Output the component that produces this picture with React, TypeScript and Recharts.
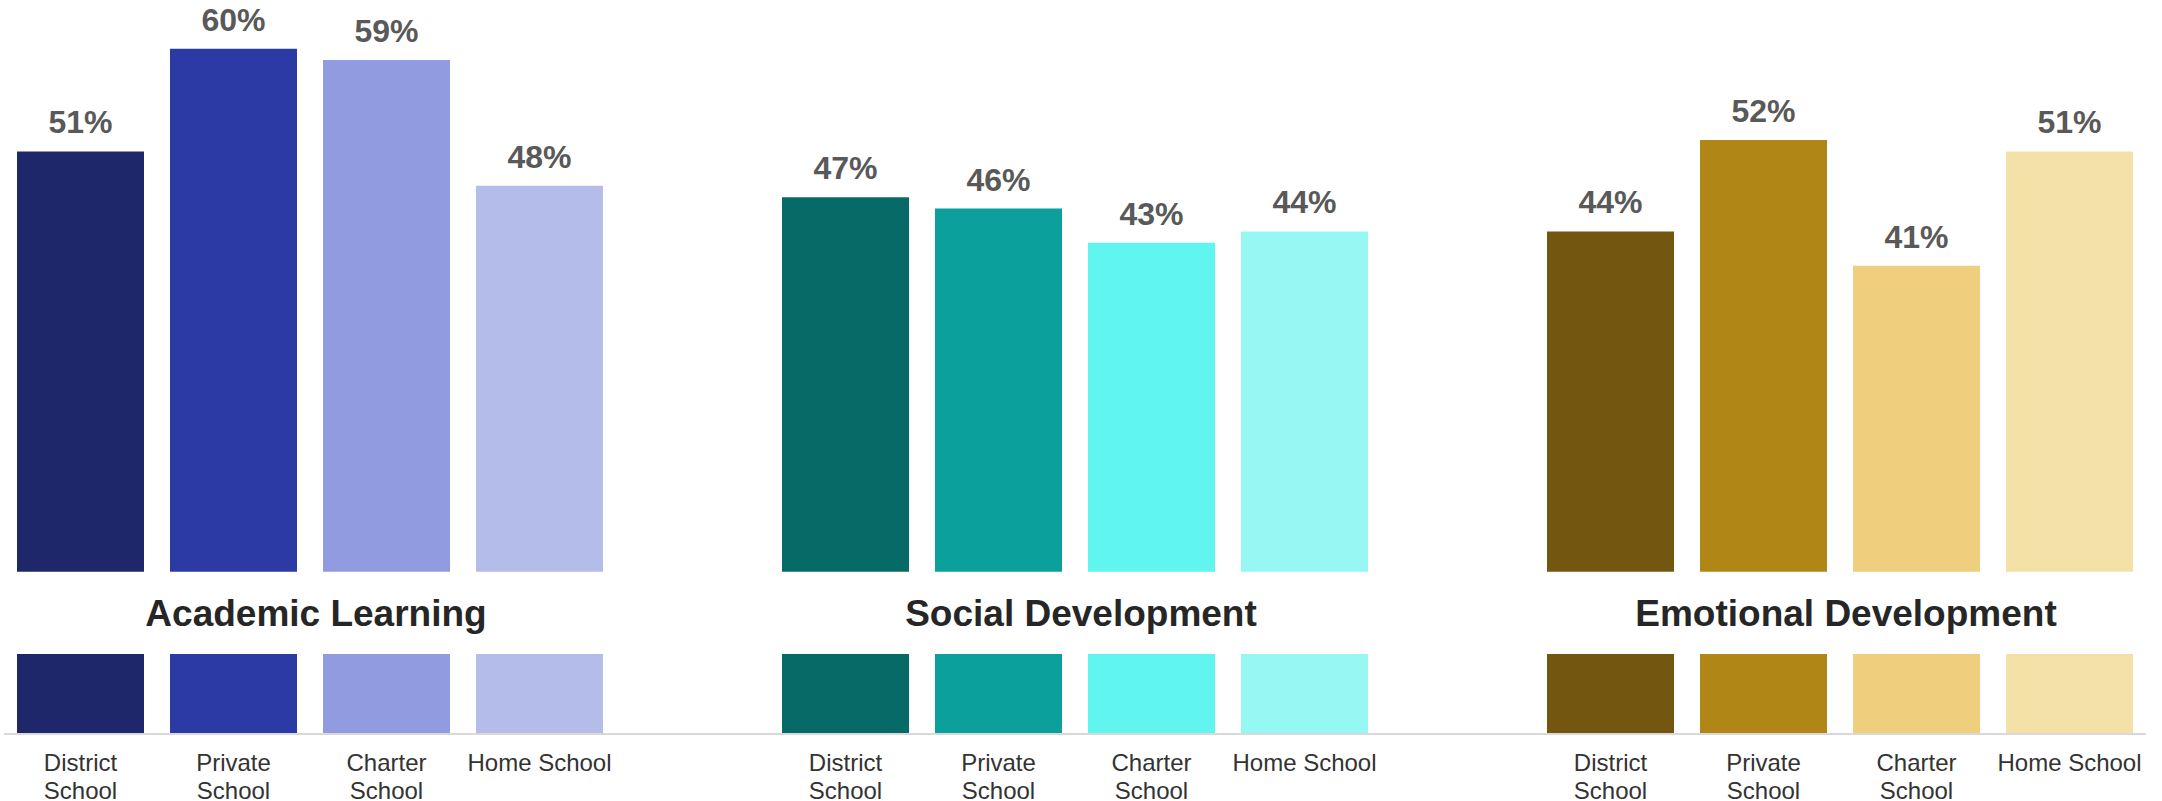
import React from 'react';
import { BarChart, Bar, XAxis, YAxis, Cell, LabelList, ReferenceArea } from 'recharts';

const FONT = '"Liberation Sans", Arial, sans-serif';

const schoolTypes = ['District School', 'Private School', 'Charter School', 'Home School'];
const areas = ['Academic Learning', 'Social Development', 'Emotional Development'];

const academic = [51, 60, 59, 48];
const social = [47, 46, 43, 44];
const emotional = [44, 52, 41, 51];

const academicColors = ['#1E2769', '#2C3AA5', '#909BE0', '#B4BCEA'];
const socialColors = ['#066B66', '#0BA09B', '#60F5EF', '#97F7F3'];
const emotionalColors = ['#735710', '#B08617', '#EFCF7D', '#F3E1A8'];

// the white band that "breaks" the bars and holds the area titles
const breakFrom = 7;
const breakTo = 14.2;

const seriesByArea = [academic, social, emotional];
const colorsByArea = [academicColors, socialColors, emotionalColors];

type Row = { key: string; label: string; value: number | null; color: string };

// one slot per bar, plus an empty slot between the areas
const rows: Row[] = [];
areas.forEach((area, g) => {
  if (g > 0) rows.push({ key: `gap-${g}`, label: '', value: null, color: '#ffffff' });
  schoolTypes.forEach((s, i) => {
    rows.push({ key: `${area}|${s}`, label: s, value: seriesByArea[g][i], color: colorsByArea[g][i] });
  });
});

// greedy word wrap, about as many characters as fit under one bar
const wrap = (label: string, maxChars = 12) => {
  const lines: string[] = [];
  label.split(' ').forEach((w) => {
    const last = lines[lines.length - 1];
    if (last !== undefined && (last + ' ' + w).length <= maxChars) lines[lines.length - 1] = last + ' ' + w;
    else lines.push(w);
  });
  return lines;
};

const SchoolTick = (props: any) => {
  const { x, y, payload } = props;
  const row = rows.find((r) => r.key === payload.value);
  if (!row || !row.label) return null;
  return (
    <text x={x} y={y} textAnchor="middle" fontSize={24} fontFamily={FONT} fill="#333333">
      {wrap(row.label).map((line, i) => (
        <tspan key={i} x={x} dy={i === 0 ? 17 : 27.5}>
          {line}
        </tspan>
      ))}
    </text>
  );
};

export default function App() {
  return (
    <div style={{ position: 'absolute', left: 0, top: 0, background: '#fff' }}>
      <BarChart
        width={2162}
        height={801}
        data={rows}
        margin={{ top: 3, right: 16, left: 4, bottom: 0 }}
      >
        <XAxis
          dataKey="key"
          interval={0}
          tickLine={false}
          tickSize={0}
          tickMargin={20}
          height={67}
          axisLine={{ stroke: '#d9d9d9', strokeWidth: 2 }}
          tick={<SchoolTick />}
        />
        <YAxis hide domain={[0, 64]} />
        <Bar dataKey="value" barSize={127} isAnimationActive={false}>
          {rows.map((r) => (
            <Cell key={r.key} fill={r.color} />
          ))}
          <LabelList
            dataKey="value"
            position="top"
            offset={18}
            formatter={(v: any) => (v == null ? '' : `${v}%`)}
            fill="#595959"
            fontSize={32}
            fontWeight="bold"
            fontFamily={FONT}
          />
        </Bar>
        <ReferenceArea
          x1={rows[0].key}
          x2={rows[rows.length - 1].key}
          y1={breakFrom}
          y2={breakTo}
          fill="#ffffff"
          fillOpacity={1}
          stroke="none"
          zIndex={1500}
        />
        {areas.map((area) => (
          <ReferenceArea
            key={area}
            x1={`${area}|${schoolTypes[0]}`}
            x2={`${area}|${schoolTypes[schoolTypes.length - 1]}`}
            y1={breakFrom}
            y2={breakTo}
            fillOpacity={0}
            stroke="none"
            zIndex={1600}
            label={{
              value: area,
              position: 'center',
              dx: 6,
              fill: '#262626',
              fontSize: 37,
              fontWeight: 'bold',
              fontFamily: FONT,
            }}
          />
        ))}
      </BarChart>
    </div>
  );
}
